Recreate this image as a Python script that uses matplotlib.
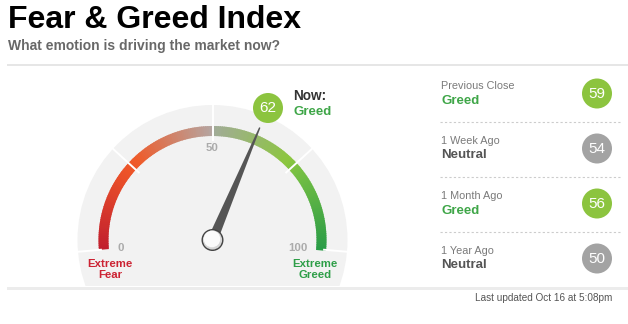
import numpy as np
import matplotlib
matplotlib.use("Agg")
import matplotlib.pyplot as plt
from matplotlib.patches import Wedge, Circle, Rectangle, Polygon
from matplotlib.colors import LinearSegmentedColormap

plt.rcParams['font.family'] = ['Liberation Sans', 'DejaVu Sans']

# Datos
now_value = 62
now_label = 'Greed'
gauge_ticks = [0, 50, 100]
zone_bounds = [0, 25, 50, 75, 100]
hist_titles = ['Previous Close', '1 Week Ago', '1 Month Ago', '1 Year Ago']
hist_labels = ['Greed', 'Neutral', 'Greed', 'Neutral']
hist_values = [59, 54, 56, 50]

# Colores
green_txt = '#3fa648'
red_txt = '#cc2333'
bubble_green = '#8cc43f'
bubble_grey = '#a3a3a3'
cmap = LinearSegmentedColormap.from_list('fg', [
    (0.0, '#c11f2e'), (0.22, '#ec5229'), (0.27, '#ef5b2a'),
    (0.5, '#b5a6a2'), (0.5, '#a2ab99'), (0.73, '#8cc63f'),
    (0.77, '#78c043'), (1.0, '#2a9c47')])

W, H = 628, 324
fig = plt.figure(figsize=(W / 100, H / 100), dpi=100)
ax = fig.add_axes([0, 0, 1, 1])
ax.set_xlim(0, W)
ax.set_ylim(H, 0)
ax.axis('off')

cx, cy = 212.5, 240


def ang(v):
    return 185 - 1.9 * v


def pt(v, r):
    a = np.radians(ang(v))
    return cx + r * np.cos(a), cy - r * np.sin(a)


# Titulo
ax.text(8, 27.5, 'Fear & Greed Index', fontsize=23, fontweight='bold',
        color='black', va='baseline')
ax.text(8, 50, 'What emotion is driving the market now?', fontsize=10,
        fontweight='bold', color='#686868', va='baseline')
ax.add_patch(Rectangle((7, 64.3), W - 7, 1.5, color='#e6e6e6', lw=0))

# Fondo del gauge
ax.add_patch(Circle((cx, cy), 135, fc='#f2f2f2', ec='none', zorder=1))
ax.add_patch(Rectangle((0, 286), W, 40, fc='white', ec='none', zorder=2))
ax.add_patch(Rectangle((7, 286.5), W - 7, 3.5, fc='#ececec', ec='none', zorder=3))

# Arco de colores (degradado)
vals = np.linspace(0, 100, 201)
for v0, v1 in zip(vals[:-1], vals[1:]):
    c = cmap((v0 + v1) / 200)
    ax.add_patch(Wedge((cx, cy), 114, -ang(v0), -ang(v1) + 0.5, width=10,
                       fc=c, ec='none', lw=0, zorder=3))

# Divisiones blancas
for b in zone_bounds:
    x0, y0 = pt(b, 100 if 0 < b < 100 else 112)
    x1, y1 = pt(b, 137)
    ax.plot([x0, x1], [y0, y1], color='white', lw=1.4, zorder=4)

# Etiquetas del gauge
for t in gauge_ticks:
    x, y = pt(t, 92)
    if t == 0:
        x, y = 121, 248
    elif t == 100:
        x, y = 298, 248
    ax.text(x, y, str(t), fontsize=8.2, fontweight='bold', color='#ababab',
            ha='center', va='center', zorder=5)
ax.text(110, 269.5, 'Extreme\nFear', fontsize=8.2, fontweight='bold',
        color=red_txt, ha='center', va='center', linespacing=1.15, zorder=5)
ax.text(315, 269.5, 'Extreme\nGreed', fontsize=8.2, fontweight='bold',
        color='#2e9e48', ha='center', va='center', linespacing=1.15, zorder=5)

# Aguja
a = np.radians(ang(now_value))
ux, uy = np.cos(a), -np.sin(a)
px, py = -uy, ux
tipx, tipy = pt(now_value, 122)
needle = [(cx + px * 5, cy + py * 5), (tipx + px * 0.7, tipy + py * 0.7),
          (tipx - px * 0.7, tipy - py * 0.7), (cx - px * 5, cy - py * 5)]
ax.add_patch(Polygon(needle, closed=True, fc='#555555', ec='none', zorder=6))

# Perilla
ax.add_patch(Circle((cx, cy), 11, fc='#444444', ec='none', zorder=7))
ax.add_patch(Circle((cx, cy), 9.6, fc='#d6d6d6', ec='none', zorder=8))
ax.add_patch(Circle((cx - 0.5, cy - 1), 8.3, fc='#fbfbfb', ec='none', zorder=9))

# Valor actual
bx, by = 268, 108
ax.add_patch(Circle((bx, by), 15, fc=bubble_green, ec='none', zorder=10))
ax.text(bx, by + 0.5, str(now_value), fontsize=11, color='white',
        ha='center', va='center', zorder=11)
ax.text(293, 96, 'Now:', fontsize=9.8, fontweight='bold', color='#333333',
        va='center')
ax.text(293, 112, now_label, fontsize=9.5, fontweight='bold',
        color=green_txt, va='center')

# Panel derecho
for i, (t, lab, v) in enumerate(zip(hist_titles, hist_labels, hist_values)):
    y0 = 86 + 55 * i
    ax.text(441, y0, t, fontsize=7.8, color='#7a7a7a', va='center')
    ax.text(441, y0 + 14.5, lab, fontsize=9.5, fontweight='bold',
            color=green_txt if lab == 'Greed' else '#555555', va='center')
    col = bubble_green if lab == 'Greed' else bubble_grey
    ax.add_patch(Circle((597, y0 + 7.5), 15, fc=col, ec='none', zorder=10))
    ax.text(597, y0 + 8, str(v), fontsize=11, color='white',
            ha='center', va='center', zorder=11)
    if i < len(hist_titles) - 1:
        ax.plot([440, 622], [y0 + 35.5, y0 + 35.5], color='#cccccc', lw=0.8,
                ls=(0, (2, 2)))

ax.text(612, 298, 'Last updated Oct 16 at 5:08pm', fontsize=7.2,
        color='#555555', ha='right', va='center')

fig.savefig('out.png', dpi=100, facecolor='white')
